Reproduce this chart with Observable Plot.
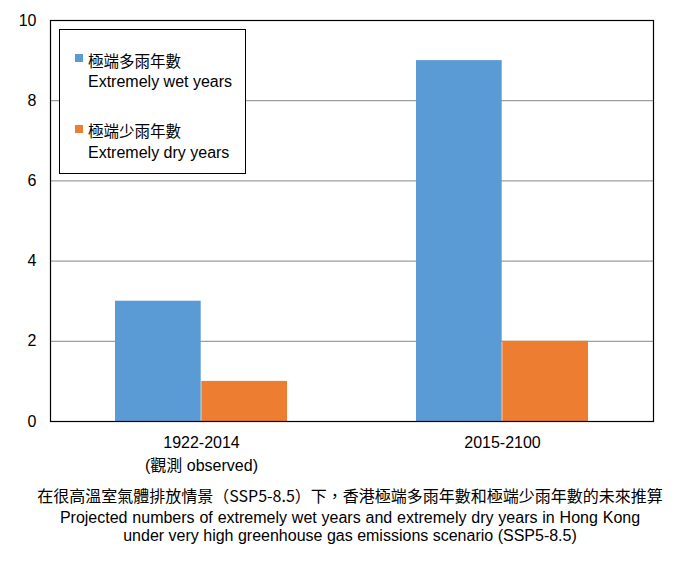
<!DOCTYPE html>
<html>
<head>
<meta charset="utf-8">
<script src="https://cdn.jsdelivr.net/npm/d3@7"></script>
<script src="https://cdn.jsdelivr.net/npm/@observablehq/plot@0.6"></script>
<style>
  body { margin: 0; background: #fff; }
  #wrap { position: relative; width: 700px; height: 562px; font-family: "Liberation Sans", Arial, sans-serif; color: #000; }
  #chart { position: absolute; left: 0; top: 0; }
  #legend { position: absolute; left: 59px; top: 29px; width: 187px; height: 145px; box-sizing: border-box; border: 1px solid #000; background: #fff; }
  #legend .sw { position: absolute; width: 8px; height: 8px; left: 15px; }
  #legend .t { position: absolute; left: 28px; font-size: 16px; line-height: 20px; white-space: pre; }
  #legend .zh { font-family: "Noto Sans CJK TC", sans-serif; font-size: 15.5px; }
  .cap { position: absolute; left: 0; width: 700px; text-align: center; font-size: 16px; white-space: pre; }
  .capzh { font-family: "Noto Sans CJK TC", sans-serif; line-height: 20px; top: 485px; font-size: 16px; }
  .capen { line-height: 18px; top: 509px; }
  .capen .l1 { word-spacing: 0.4px; }
</style>
</head>
<body>
<div id="wrap">
  <div id="chart"></div>
  <div id="legend"></div>
  <div class="cap capzh">在很高溫室氣體排放情景（SSP5-8.5）下，香港極端多雨年數和極端少雨年數的未來推算</div>
  <div class="cap capen"><span class="l1">Projected numbers of extremely wet years and extremely dry years in Hong Kong</span>
under very high greenhouse gas emissions scenario (SSP5-8.5)</div>
</div>
<script>
// Data
const periods = ["1922-2014", "2015-2100"];
const periodLabels = ["1922-2014\n(觀測 observed)", "2015-2100"];
const seriesZh = ["極端多雨年數", "極端少雨年數"];
const seriesEn = ["Extremely wet years", "Extremely dry years"];
const wetYears = [3, 9];
const dryYears = [1, 2];
const yTicks = [0, 2, 4, 6, 8, 10];
const gridValues = [2, 4, 6, 8];
const colors = ["#5B9BD5", "#ED7D31"];

const wetData = periods.map((p, i) => ({period: p, value: wetYears[i], series: seriesZh[0]}));
const dryData = periods.map((p, i) => ({period: p, value: dryYears[i], series: seriesZh[1]}));
const labelOf = new Map(periods.map((p, i) => [p, periodLabels[i]]));

const halfBar = 86.3;

const chart = Plot.plot({
  width: 700,
  height: 484,
  marginTop: 20,
  marginLeft: 50,
  marginRight: 47,
  marginBottom: 63,
  style: {fontFamily: "'Liberation Sans', Arial, 'Noto Sans CJK TC', sans-serif", fontSize: "16px", color: "#000", background: "transparent"},
  x: {domain: periods, paddingInner: 0.4275, paddingOuter: 0.21375, label: null},
  y: {domain: [0, 10], label: null},
  color: {domain: seriesZh, range: colors},
  marks: [
    Plot.ruleY(gridValues, {stroke: "#878787", strokeWidth: 1}),
    Plot.barY(wetData, {x: "period", y: "value", fill: "series", insetRight: halfBar, insetLeft: 0}),
    Plot.barY(dryData, {x: "period", y: "value", fill: "series", insetLeft: halfBar, insetRight: 0}),
    Plot.axisY({ticks: yTicks, tickSize: 0, tickPadding: 14, label: null, fontSize: 16}),
    Plot.axisX({tickSize: 0, tickPadding: 10, label: null, fontSize: 16, lineHeight: 1.45, tickFormat: d => labelOf.get(d)}),
    Plot.frame({stroke: "#000", strokeWidth: 1.2})
  ]
});
document.getElementById("chart").appendChild(chart);

// Legend
const legend = document.getElementById("legend");
const tops = [[24, 20, 42], [95, 90, 113]];
seriesZh.forEach((s, i) => {
  const sw = document.createElement("div");
  sw.className = "sw";
  sw.style.top = tops[i][0] + "px";
  sw.style.background = colors[i];
  legend.appendChild(sw);
  const zh = document.createElement("div");
  zh.className = "t zh";
  zh.style.top = tops[i][1] + "px";
  zh.textContent = s;
  legend.appendChild(zh);
  const en = document.createElement("div");
  en.className = "t";
  en.style.top = tops[i][2] + "px";
  en.textContent = seriesEn[i];
  legend.appendChild(en);
});
</script>
</body>
</html>
